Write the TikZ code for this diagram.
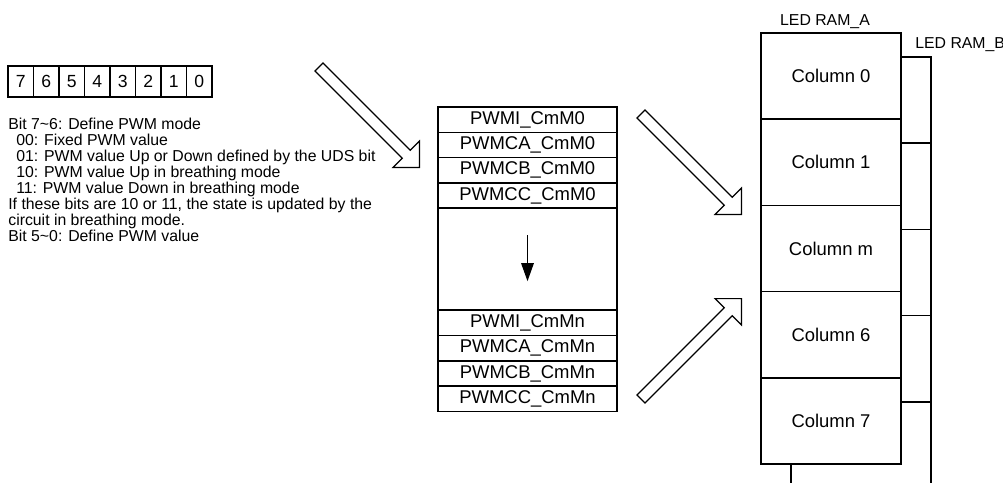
\documentclass[tikz,border=0pt]{standalone}
\usepackage{fontspec}
\setmainfont{Liberation Sans}
\usetikzlibrary{arrows.meta, positioning, shapes.arrows}

\begin{document}
\begin{tikzpicture}[
    reg/.style={draw, line width=0.8pt, outer sep=0pt, inner sep=0pt, minimum width=3.58cm,
                minimum height=0.506cm, font=\fontsize{10.5}{12}\selectfont},
    col/.style={draw, fill=white, line width=0.8pt, outer sep=0pt, inner sep=0pt,
                minimum width=2.8cm, minimum height=1.724cm, font=\fontsize{10.5}{12}\selectfont},
    bitcell/.style={draw, line width=0.8pt, outer sep=0pt, inner sep=0pt, minimum width=0.51cm,
                minimum height=0.62cm, font=\fontsize{10}{12}\selectfont},
    hollow/.style={draw, fill=white, single arrow, single arrow tip angle=90,
                single arrow head extend=0.26cm, inner sep=0.1cm, minimum height=2.84cm,
                line width=0.7pt},
    arr/.style={-{Triangle[length=3.6mm, width=2.5mm]}, line width=0.8pt},
    lbl/.style={inner sep=0pt, font=\fontsize{9}{10}\selectfont}
]
\useasboundingbox (0,0) rectangle (20.06,-9.64);

% bit field and its description
\foreach \b in {7,6,...,0}
    \node[bitcell] (bit\b) at ({0.415+0.51*(7-\b)}, -1.63) {\b};
\node[lbl, anchor=north west, align=left, font=\fontsize{9}{9.1}\selectfont] (desc) at (0.16,-2.36)
    {Bit 7\textasciitilde6: Define PWM mode\\
     \hspace*{4.5pt}00: Fixed PWM value\\
     \hspace*{4.5pt}01: PWM value Up or Down defined by the UDS bit\\
     \hspace*{4.5pt}10: PWM value Up in breathing mode\\
     \hspace*{4.5pt}11: PWM value Down in breathing mode\\
     If these bits are 10 or 11, the state is updated by the\\
     circuit in breathing mode.\\
     Bit 5\textasciitilde0: Define PWM value};

% PWM registers
\node[reg, anchor=north west] (pwmiM0) at (8.76,-2.14) {PWMI\_CmM0};
\node[reg, below=0pt of pwmiM0] (pwmcaM0) {PWMCA\_CmM0};
\node[reg, below=0pt of pwmcaM0] (pwmcbM0) {PWMCB\_CmM0};
\node[reg, below=0pt of pwmcbM0] (pwmccM0) {PWMCC\_CmM0};
\node[reg, below=0pt of pwmccM0, minimum height=2.04cm] (gap) {};
\node[reg, below=0pt of gap] (pwmiMn) {PWMI\_CmMn};
\node[reg, below=0pt of pwmiMn] (pwmcaMn) {PWMCA\_CmMn};
\node[reg, below=0pt of pwmcaMn] (pwmcbMn) {PWMCB\_CmMn};
\node[reg, below=0pt of pwmcbMn] (pwmccMn) {PWMCC\_CmMn};
\draw[arr] ([yshift=-0.54cm]gap.north) -- ([yshift=0.58cm]gap.south);

% LED RAM B (behind)
\node[col, anchor=north west] (ramB0) at (15.82,-1.14) {};
\node[col, below=0pt of ramB0] (ramB1) {};
\node[col, below=0pt of ramB1] (ramB2) {};
\node[col, below=0pt of ramB2] (ramB3) {};
\node[col, below=0pt of ramB3] (ramB4) {};

% LED RAM A
\node[col, anchor=north west] (ramA0) at (15.22,-0.66) {Column 0};
\node[col, below=0pt of ramA0] (ramA1) {Column 1};
\node[col, below=0pt of ramA1] (ramA2) {Column m};
\node[col, below=0pt of ramA2] (ramA3) {Column 6};
\node[col, below=0pt of ramA3] (ramA4) {Column 7};

\node[lbl, above=2.3pt of ramA0, xshift=-0.12cm] (labA) {LED RAM\_A};
\node[lbl, anchor=south west] (labB) at ([xshift=-0.32cm, yshift=2.8pt]ramB0.north east) {LED RAM\_B};

% hollow arrows
\node[hollow, rotate=-45, anchor=tip] (toReg) at (8.4,-3.36) {};
\node[hollow, rotate=-45, anchor=tip] (toRamA) at (14.84,-4.3) {};
\node[hollow, rotate=45, anchor=tip] (fromReg) at (14.84,-5.96) {};
\end{tikzpicture}
\end{document}
